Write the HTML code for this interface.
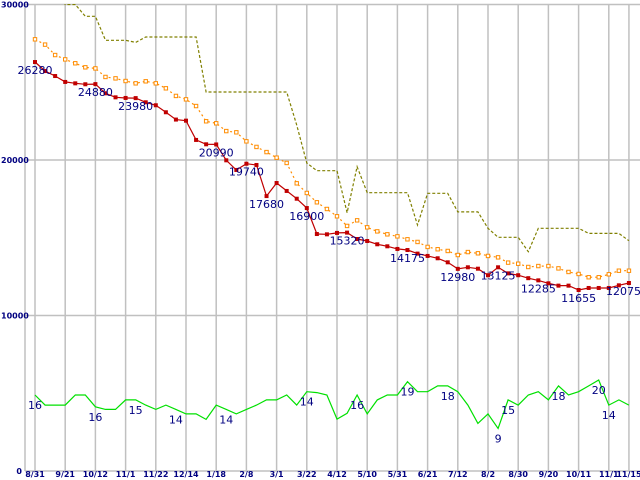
<!DOCTYPE html>
<html><head><meta charset="utf-8"><style>
html,body{margin:0;padding:0;background:#fff;}
svg{display:block;}
.ax{font-family:"DejaVu Sans","Liberation Sans",sans-serif;font-size:8px;font-weight:bold;fill:#000080;}
.lb{font-family:"DejaVu Sans","Liberation Sans",sans-serif;font-size:11px;fill:#000080;}
</style></head><body>
<svg id="chart" width="640" height="480" xmlns="http://www.w3.org/2000/svg">
<g id="grid"></g>
<g id="series"></g>
<g id="labels"></g>
</svg>
<script>
const xTickLabels = ["8/31","9/21","10/12","11/1","11/22","12/14","1/18","2/8","3/1","3/22","4/12","5/10","5/31","6/21","7/12","8/2","8/30","9/20","10/11","11/1","11/15"];
const yTicks = [0,10000,20000,30000];
const redValues = [26300,25720,25400,25020,24930,24870,24880,24290,24030,23990,23980,23710,23520,23070,22600,22530,21290,21010,21000,19980,19360,19760,19680,17680,18520,18010,17510,16910,15240,15220,15310,15330,14920,14790,14580,14450,14280,14210,13980,13830,13680,13420,13000,13100,13010,12590,13100,12710,12590,12400,12260,12070,11920,11920,11640,11770,11770,11770,11940,12090];
const orangeValues = [27760,27420,26750,26470,26220,25960,25890,25340,25250,25080,24930,25060,24930,24610,24120,23900,23470,22490,22360,21860,21780,21200,20840,20510,20150,19810,18500,17880,17280,16850,16380,15760,16120,15670,15410,15220,15090,14900,14730,14410,14260,14150,13890,14080,14000,13830,13740,13400,13330,13120,13180,13180,13030,12800,12670,12460,12460,12650,12880,12880];
const oliveValues = [32000,32000,32000,30000,30000,29240,29240,27700,27700,27700,27560,27910,27910,27910,27910,27910,27910,24370,24370,24370,24370,24370,24370,24370,24370,24370,22250,19810,19310,19310,19310,16610,19570,17900,17900,17900,17900,17900,15820,17860,17860,17860,16660,16660,16660,15610,15030,15030,15030,14100,15610,15610,15610,15610,15610,15280,15280,15280,15280,14810];
const greenValues = [4890,4240,4240,4240,4890,4890,4130,3960,3960,4570,4570,4240,3960,4240,3960,3670,3670,3320,4240,3960,3670,3960,4240,4570,4570,4890,4240,5100,5040,4890,3340,3710,4890,3670,4570,4890,4890,5740,5100,5100,5470,5470,5100,4240,3060,3670,2730,4570,4240,4890,5100,4570,5470,4890,5100,5470,5850,4240,4570,4240];
const redLabelIdx = [0,6,10,18,21,23,27,31,37,42,46,50,54,59];
const redLabelText = ["26280","24880","23980","20990","19740","17680","16900","15320","14175","12980","13125","12285","11655","12075"];
const greenLabelIdx = [0,6,10,14,19,27,32,37,41,46,47,52,56,57];
const greenLabelText = ["16","16","15","14","14","14","16","19","18","9","15","18","20","14"];

const NS="http://www.w3.org/2000/svg";
const X0=35, STEP=30.2/3, Y0=471, YS=0.01555;
function xs(i){return X0+i*STEP;}
function ys(v){return Y0-v*YS;}
function mk(tag,attrs,parent){const e=document.createElementNS(NS,tag);for(const k in attrs)e.setAttribute(k,attrs[k]);parent.appendChild(e);return e;}
const grid=document.getElementById('grid'),ser=document.getElementById('series'),lab=document.getElementById('labels');

const defs=mk('defs',{},document.getElementById('chart'));
const cp=mk('clipPath',{id:'pc'},defs);mk('rect',{x:25,y:4,width:615,height:467},cp);

xTickLabels.forEach((t,k)=>{
  const x = k<20 ? X0+k*30.2 : xs(59);
  const l=mk('line',{x1:x,y1:4,x2:x,y2:Y0,stroke:'#c0c0c0','stroke-width':1.5},grid);
  
  
  const tx=mk('text',{x:x,y:477,'text-anchor':'middle',class:'ax'},lab);
  tx.textContent=t;
  
  
});
yTicks.forEach(v=>{
  const y=ys(v);
  const l=mk('line',{x1:25,y1:y,x2:640,y2:y,stroke:'#c0c0c0','stroke-width':1.5},grid);
  
  
  const tx=mk('text',{x:v===0?22:1,y:y+3,class:'ax','text-anchor':v===0?'end':'start'},lab);
  tx.textContent=String(v);
  
  
});
const ax=mk('line',{x1:25,y1:4,x2:25,y2:Y0,stroke:'#c0c0c0','stroke-width':1.5},grid);



function line(vals,color,dash,name,w){
  const pts=vals.map((v,i)=>xs(i).toFixed(1)+','+ys(v).toFixed(1)).join(' ');
  const p=mk('polyline',{points:pts,fill:'none',stroke:color,'stroke-width':w||1,'clip-path':'url(#pc)'},ser);
  if(dash)p.setAttribute('stroke-dasharray',dash);
  
  
}
line(oliveValues,'#808000','3,2','olive-line',1.2);
line(greenValues,'#00e000',null,'green-line',1.2);
line(orangeValues,'#ff8c00','2,3','orange-line',1.2);
line(redValues,'#c00000',null,'red-line',1.2);
orangeValues.forEach((v,i)=>{
  const r=mk('rect',{x:xs(i)-1.7,y:ys(v)-1.7,width:3.4,height:3.4,fill:'#fff',stroke:'#ff8c00','stroke-width':1},ser);
  
  
});
redValues.forEach((v,i)=>{
  const r=mk('rect',{x:xs(i)-2,y:ys(v)-2,width:4,height:4,fill:'#c00000'},ser);
  
  
});
redLabelIdx.forEach((idx,j)=>{
  const last = idx===59;
  const t=mk('text',{x:last?641:xs(idx),y:ys(redValues[idx])+12,'text-anchor':last?'end':'middle',class:'lb'},lab);
  t.textContent=redLabelText[j];
  
  
});
greenLabelIdx.forEach((idx,j)=>{
  const t=mk('text',{x:xs(idx),y:ys(greenValues[idx])+14,'text-anchor':'middle',class:'lb'},lab);
  t.textContent=greenLabelText[j];
  
  
});
</script>
</body></html>
